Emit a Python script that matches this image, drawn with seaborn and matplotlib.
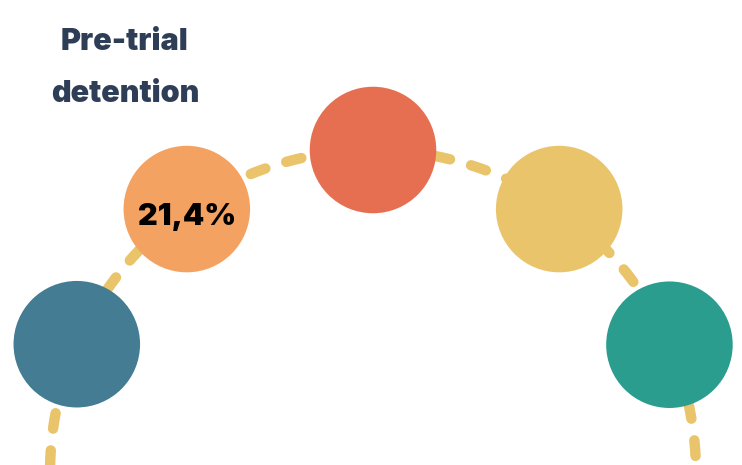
import numpy as np
import pandas as pd
import seaborn as sns
import matplotlib.pyplot as plt

# Etapas ao longo do arco (ângulo em graus sobre o arco)
etapas = ["etapa 1", "etapa 2", "etapa 3", "etapa 4", "etapa 5"]
angulos = [156.5, 125.2, 90.0, 54.8, 23.4]
cores = ["#437c93", "#f4a261", "#e76f51", "#e9c46a", "#2a9d8f"]
rotulos = ["", "21,4%", "", "", ""]
titulo = "Pre-trial\ndetention"

sns.set_theme(style="white")
plt.rcParams["font.family"] = ["Inter", "DejaVu Sans"]

# geometria do arco (pixels)
cx, cy, R = 373, 473, 323

fig = plt.figure(figsize=(7.42, 4.65), dpi=100)
ax = fig.add_axes([0, 0, 1, 1])
ax.set_xlim(0, 742)
ax.set_ylim(465, 0)
ax.set_aspect("equal")
ax.axis("off")

# arco tracejado
t = np.linspace(np.pi * 1.02, -np.pi * 0.02, 400)
arco = pd.DataFrame({"x": cx + R * np.cos(t), "y": cy - R * np.sin(t)})
sns.lineplot(data=arco, x="x", y="y", ax=ax, color="#e9c46a", lw=7.5,
             sort=False, dashes=False, zorder=1, legend=False)
linha = ax.lines[-1]
linha.set_dashes((1.5, 2.1))
linha.set_dash_capstyle("round")

# círculos
a = np.radians(angulos)
df = pd.DataFrame({"etapa": etapas,
                   "x": cx + R * np.cos(a),
                   "y": cy - R * np.sin(a)})
sns.scatterplot(data=df, x="x", y="y", hue="etapa", palette=cores, s=8300,
                linewidth=0, ax=ax, legend=False, zorder=2)

for (_, r), txt in zip(df.iterrows(), rotulos):
    if txt:
        ax.text(r.x, r.y + 8, txt, ha="center", va="center", fontsize=22,
                fontweight="black", color="black", zorder=3)

ax.text(125, 68, titulo, ha="center", va="center", fontsize=22,
        fontweight="black", color="#2f3e57", linespacing=2.05)

fig.savefig("out.png", dpi=100)
